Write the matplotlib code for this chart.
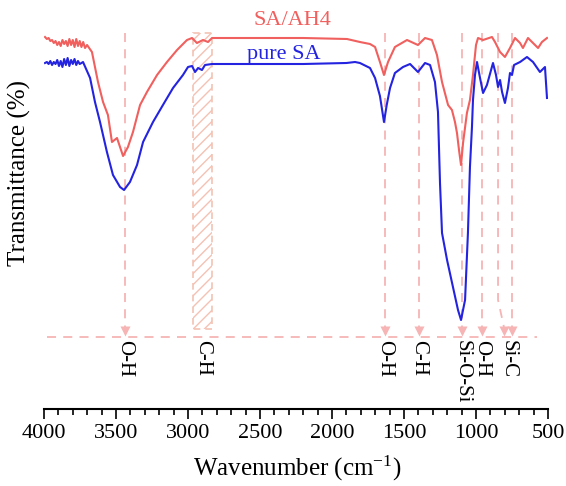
import matplotlib
matplotlib.use("Agg")
import matplotlib.pyplot as plt
from matplotlib.patches import Rectangle
from matplotlib.ticker import MultipleLocator

# FTIR spectra (transmittance in arbitrary units)
wn_sa = [3993, 3980, 3968, 3956, 3944, 3932, 3920, 3908, 3896, 3884, 3872, 3860,
         3848, 3836, 3824, 3812, 3800, 3788, 3776, 3764, 3752, 3740, 3729,
         3680, 3646, 3611, 3563, 3521, 3472, 3444, 3403, 3354, 3312, 3243, 3174,
         3104, 3035, 3000, 2972, 2951, 2930, 2903, 2882, 2833, 2500, 2200, 1900,
         1840, 1806, 1736, 1701, 1667, 1639, 1620, 1597, 1563, 1507, 1458, 1403,
         1354, 1319, 1285, 1264, 1250, 1236, 1201, 1160, 1125, 1104, 1076, 1056,
         1042, 1028, 1021, 1007, 993, 972, 951, 924, 882, 861, 847, 833, 819, 799,
         778, 764, 750, 736, 694, 646, 604, 556, 521, 507]
t_sa = [346, 347, 345, 348, 344, 347, 345, 349, 343, 348, 342, 350,
        344, 351, 343, 349, 345, 350, 344, 348, 345, 346, 347,
        331, 307, 287, 257, 234, 222, 219, 227, 244, 267, 287, 304,
        321, 334, 342, 343, 337, 341, 339, 344, 345, 345, 345, 346,
        347, 346, 341, 331, 313, 287, 304, 321, 336, 342, 345, 337,
        346, 344, 327, 297, 226, 176, 149, 122, 99, 89, 109, 176,
        242, 282, 309, 334, 347, 331, 316, 324, 346, 334, 322, 329, 317, 306,
        321, 336, 334, 344, 347, 352, 347, 337, 342, 311]

wn_ah4 = [3993, 3980, 3968, 3956, 3944, 3932, 3920, 3908, 3896, 3884, 3872, 3860,
          3848, 3836, 3824, 3812, 3800, 3788, 3776, 3764, 3752, 3740, 3728, 3715,
          3701, 3667, 3625, 3590, 3556, 3528, 3493, 3465, 3451, 3417, 3382, 3333,
          3285, 3215, 3146, 3076, 3007, 2972, 2938, 2896, 2861, 2833, 2200, 1896,
          1806, 1736, 1701, 1667, 1639, 1611, 1563, 1479, 1403, 1354, 1306, 1271,
          1236, 1194, 1167, 1146, 1132, 1118, 1104, 1090, 1063, 1042, 1021, 1000,
          986, 951, 889, 868, 833, 799, 764, 729, 694, 674, 639, 604, 569, 542, 507]
t_ah4 = [372, 370, 371, 368, 369, 366, 368, 364, 367, 363, 369, 365,
         368, 363, 370, 364, 369, 362, 370, 363, 368, 362, 367, 361,
         364, 357, 327, 307, 294, 267, 271, 259, 253, 262, 277, 304,
         317, 334, 347, 359, 369, 371, 366, 369, 367, 371, 371, 370,
         367, 365, 362, 347, 334, 347, 362, 369, 364, 371, 369, 354,
         327, 304, 299, 287, 276, 259, 244, 266, 296, 309, 334, 364,
         371, 369, 372, 367, 357, 352, 361, 371, 366, 361, 371, 366, 361, 367, 371]

# band assignments
band_pos = [3440, 1635, 1396, 1097, 958, 750]
band_lbl_pos = [3440, 2900, 1635, 1396, 1097, 958, 778]
band_lbl = ["O-H", "C-H", "O-H", "C-H", "Si-O-Si", "O-H", "Si-C"]
ch_band = (2965, 2833)

RED = "#f0605e"
BLUE = "#2323e0"
PINK = "#f6b4b4"
HATCH = "#f3cfa6"

plt.rcParams["font.family"] = ["Liberation Serif", "DejaVu Serif"]
plt.rcParams["mathtext.default"] = "regular"
plt.rcParams["hatch.color"] = HATCH
plt.rcParams["hatch.linewidth"] = 1.0

fig = plt.figure(figsize=(5.66, 4.86), dpi=100)
ax = fig.add_axes([44 / 566, 77 / 486, 504 / 566, 409 / 486])

top, tip, base = 376, 74, 72
dash = (0, (5, 4))

# reference lines / arrows
ax.plot([3979, 576], [base, base], color=PINK, lw=1.3, ls=dash, zorder=1)
for w in band_pos:
    ax.plot([w, w], [top, tip + 8], color=PINK, lw=1.3, ls=dash, zorder=1)
    ax.plot(w, tip + 4, marker="v", ms=7.5, color=PINK, mec="none", zorder=1)
ax.plot([847, 847, 806], [top, 109, tip + 8], color=PINK, lw=1.3, ls=dash, zorder=1)
ax.plot(806, tip + 4, marker="v", ms=7.5, color=PINK, mec="none", zorder=1)
ax.add_patch(Rectangle((ch_band[1], 80), ch_band[0] - ch_band[1], top - 80,
                       facecolor="none", edgecolor="#f4c2b4", hatch="///",
                       lw=1.2, ls=(0, (4, 3)), zorder=1))

ax.plot(wn_ah4, t_ah4, color=RED, lw=1.5, zorder=3)
ax.plot(wn_sa, t_sa, color=BLUE, lw=1.5, zorder=3)

ax.text(2278, 388, "SA/AH4", color=RED, fontsize=16, ha="center", va="center")
ax.text(2333, 355, "pure SA", color=BLUE, fontsize=16, ha="center", va="center")

for w, s in zip(band_lbl_pos, band_lbl):
    ax.text(w, base - 3, s, rotation=270, fontsize=15, ha="center", va="top")

ax.set_xlim(4000, 500)
ax.set_ylim(0, 409)
ax.xaxis.set_major_locator(MultipleLocator(500))
ax.xaxis.set_minor_locator(MultipleLocator(100))
ax.tick_params(axis="x", which="major", length=7, width=1.2, labelsize=16, pad=4)
ax.tick_params(axis="x", which="minor", length=4, width=1.2)
ax.set_yticks([])
for s in ("top", "right", "left"):
    ax.spines[s].set_visible(False)
ax.spines["bottom"].set_linewidth(1.5)

fig.text(297 / 566, 1 - 468 / 486, "Wavenumber (cm$^{-1}$)", fontsize=18,
         ha="center", va="center")
fig.text(19 / 566, 1 - 173 / 486, "Transmittance (%)", fontsize=18,
         rotation=90, ha="center", va="center")

fig.savefig("out.png", dpi=100)
